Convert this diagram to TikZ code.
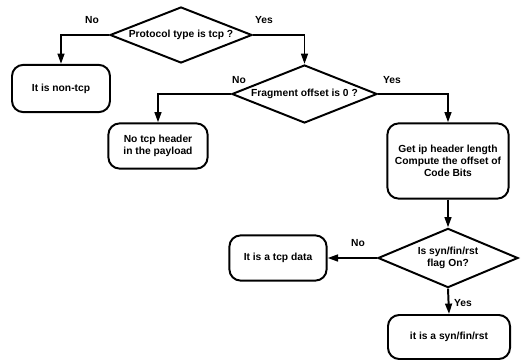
\documentclass[tikz,border=0pt]{standalone}
\usepackage{fontspec}
\setmainfont{Liberation Sans}
\usetikzlibrary{arrows.meta,shapes.geometric}

\begin{document}
\begin{tikzpicture}[
  x=0.025cm, y=-0.025cm,
  font=\bfseries\fontsize{7.3}{8.6}\selectfont,
  caja/.style={draw, rounded corners=8pt, line width=1.4pt, align=center,
               inner sep=0pt},
  rombo/.style={draw, diamond, line width=1.4pt, inner sep=0pt, aspect=2.6,
                align=center},
  flecha/.style={line width=1.4pt, -{Triangle[length=0.26cm, width=0.17cm]}},
  rotulo/.style={font=\bfseries\fontsize{7.3}{8.6}\selectfont},
]
\useasboundingbox (0,0) rectangle (525,360);
% ---- decisiones -----------------------------------------------------------
\node[rombo, minimum width=3.55cm, minimum height=1.4cm] (tipo) at (181,35)
  {Protocol type is tcp ?};
\node[rombo, minimum width=3.63cm, minimum height=1.45cm] (frag) at (304.5,94)
  {Fragment offset is 0 ?};
\node[rombo, minimum width=3.5cm, minimum height=1.48cm] (flag) at (448,258)
  {Is syn/fin/rst\\flag On?};
% ---- cajas ------------------------------------------------------------------
\node[caja, minimum width=2.45cm, minimum height=1.18cm] (notcp) at (61,88.5)
  {It is non-tcp};
\node[caja, minimum width=2.48cm, minimum height=1.13cm] (nohdr) at (158,146)
  {No tcp header\\in the payload};
\node[caja, minimum width=3.03cm, minimum height=1.88cm] (ihl) at (448,161)
  {Get ip header length\\Compute the offset of\\Code Bits};
\node[caja, minimum width=2.43cm, minimum height=1.13cm] (datos) at (278,258)
  {It is a tcp data};
\node[caja, minimum width=3.05cm, minimum height=1.1cm] (syn) at (449,337)
  {it is a syn/fin/rst};
% ---- conectores -------------------------------------------------------------
\draw[flecha] (tipo.west) -| (notcp.north);
\draw[flecha] (tipo.east) -| (frag.north);
\draw[flecha] (frag.west) -| (nohdr.north);
\draw[flecha] (frag.east) -| (ihl.north);
\draw[flecha] (ihl.south) -- (flag.north);
\draw[flecha] (flag.west) -- (datos.east);
\draw[flecha] (flag.south) -- (syn.north);
% ---- rotulos ----------------------------------------------------------------
\node[rotulo] (no1) at (92,20) {No};
\node[rotulo] (si1) at (264,20) {Yes};
\node[rotulo] (no2) at (239,80) {No};
\node[rotulo] (si2) at (392,80) {Yes};
\node[rotulo] (no3) at (358,243) {No};
\node[rotulo] (si3) at (463,303) {Yes};
\end{tikzpicture}
\end{document}
